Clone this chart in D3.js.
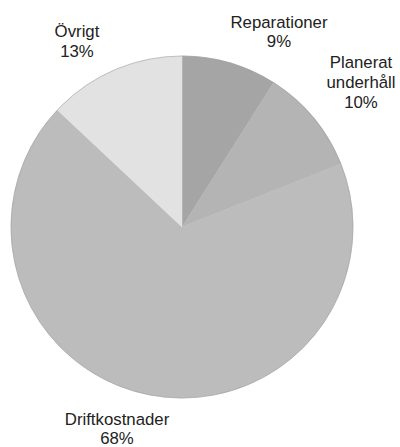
<!DOCTYPE html>
<html>
<head>
<meta charset="utf-8">
<script src="https://cdn.jsdelivr.net/npm/d3@7"></script>
<style>
  html, body { margin: 0; padding: 0; background: #fff; }
  svg { display: block; }
</style>
</head>
<body>
<svg id="chart" width="400" height="447"></svg>
<script>
const categories = ["Reparationer", "Planerat underhåll", "Driftkostnader", "Övrigt"];
const values = [9, 10, 68, 13];
const labelLines = [["Reparationer", "9%"], ["Planerat", "underhåll", "10%"], ["Driftkostnader", "68%"], ["Övrigt", "13%"]];
const colors = ["#a5a5a5", "#b4b4b4", "#bcbcbc", "#e2e2e2"];

const svg = d3.select("#chart");
const cx = 182, cy = 227, r = 171;

const data = categories.map((c, i) => ({ name: c, value: values[i], lines: labelLines[i], color: colors[i] }));

const pie = d3.pie().value(d => d.value).sort(null);
const arcs = pie(data);
const arc = d3.arc().innerRadius(0).outerRadius(r);

const g = svg.append("g").attr("transform", `translate(${cx},${cy})`);

g.selectAll("path.slice")
  .data(arcs)
  .enter().append("path")
  .attr("class", "slice")
  .attr("d", arc)
  .attr("fill", d => d.data.color)
  .attr("stroke", d => d.data.color)
  .attr("stroke-width", 0.5);

g.append("circle")
  .attr("r", r)
  .attr("fill", "none")
  .attr("stroke", "#9c9c9c")
  .attr("stroke-width", 0.8)
  .attr("stroke-opacity", 0.7);

// Label centres / first baselines
const labelPos = [[279, 28], [361, 68], [117, 425], [77, 37]];
const lineH = [19, 20, 19, 20];

arcs.forEach((a, i) => {
  const t = svg.append("text")
    .attr("text-anchor", "middle")
    .attr("font-family", "Liberation Sans, Arial, sans-serif")
    .attr("font-size", 16.8)
    .attr("fill", "#222");
  a.data.lines.forEach((ln, j) => {
    t.append("tspan")
      .attr("x", labelPos[i][0])
      .attr("y", labelPos[i][1] + j * lineH[i])
      .text(ln);
  });
});
</script>
</body>
</html>
